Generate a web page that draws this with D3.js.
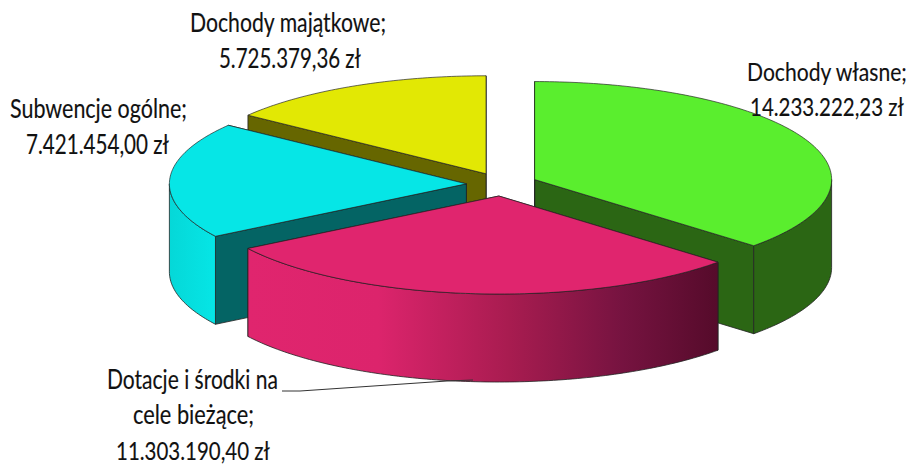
<!DOCTYPE html>
<html><head><meta charset="utf-8">
<script src="https://cdnjs.cloudflare.com/ajax/libs/d3/7.8.5/d3.min.js"></script>
<style>html,body{margin:0;padding:0;background:#fff}svg{display:block}text{font-family:Lato,"Open Sans",sans-serif;font-size:26px;fill:#111;stroke:#111;stroke-width:0.15}</style>
</head><body><div id="c"></div>
<script>
const categories = ["Dochody własne","Dotacje i środki na cele bieżące","Subwencje ogólne","Dochody majątkowe"];
const values = [14233222.23,11303190.40,7421454.00,5725379.36];
const topColors = ["#5aee2e","#e0256e","#06e6e6","#e2e804"];
const faceColors = ["#2b6614","#e0256e","#046464","#666600"];
const sideColors = ["#2b6614","url(#gPink)","url(#gCyan)","#666600"];
const labelLines = [
  ["Dochody własne;","14.233.222,23 zł"],
  ["Dotacje i środki na","cele bieżące;","11.303.190,40 zł"],
  ["Subwencje ogólne;","7.421.454,00 zł"],
  ["Dochody majątkowe;","5.725.379,36 zł"]
];
const W=912,H=466,cx=502,cy=184.3,rx=297,ry=98,depth=88,explode=0.12;
const labelBoxes=[
  [[747,907,81],[750,904,116]],
  [[107,278,389],[133,254,424],[116,270,460]],
  [[10,187,118],[26,169,154]],
  [[190,386,32],[219,361,68]]
];
const x=d3.scaleLinear().domain([-1,1]).range([cx-rx,cx+rx]);
const y=d3.scaleLinear().domain([-1,1]).range([cy-ry,cy+ry]);
const svg=d3.select("#c").append("svg").attr("width",W).attr("height",H);
const defs=svg.append("defs");
function grad(id,x1,x2,stops){
  const g=defs.append("linearGradient").attr("id",id).attr("gradientUnits","userSpaceOnUse")
    .attr("x1",x1).attr("x2",x2).attr("y1",0).attr("y2",0);
  stops.forEach(s=>g.append("stop").attr("offset",s[0]).attr("stop-color",s[1]));
}
grad("gPink",247,716,[[0,"#e0256e"],[0.28,"#dc246c"],[0.56,"#a81c50"],[0.8,"#761340"],[1,"#560b2b"]]);
grad("gCyan",170,217,[[0,"#05d8d8"],[1,"#06e6e6"]]);
const arcs=d3.pie().sort(null).value(d=>d)(values);
const line=d3.line().x(d=>d[0]).y(d=>d[1]);
const stroke="#222";
// painter order: back slices first
[3,2,0,1].forEach(i=>{
  const a=arcs[i],g=svg.append("g");
  const mid=(a.startAngle+a.endAngle)/2;
  const ox=Math.sin(mid)*explode,oy=-Math.cos(mid)*explode;
  const P=(t,r=1,dz=0)=>[x(ox+Math.sin(t)*r),y(oy-Math.cos(t)*r)+dz];
  const sweep=(t0,t1,dz=0)=>{const n=Math.max(2,Math.ceil((t1-t0)*60));return d3.range(n+1).map(k=>P(t0+(t1-t0)*k/n,1,dz));};
  const apex=P(0,0),apexB=P(0,0,depth);
  // radial walls
  [a.endAngle,a.startAngle].forEach(t=>{
    g.append("path").attr("d",line([apex,P(t),P(t,1,depth),apexB])+"Z")
      .attr("fill",faceColors[i]==="#e0256e"?"#8a1644":faceColors[i]).attr("stroke",stroke).attr("stroke-width",0.8);
  });
  // outer curved wall (front half only)
  const t0=Math.max(a.startAngle,Math.PI/2),t1=Math.min(a.endAngle,Math.PI*1.5);
  if(t1>t0){
    g.append("path").attr("d",line(sweep(t0,t1).concat(sweep(t0,t1,depth).reverse()))+"Z")
      .attr("fill",sideColors[i]).attr("stroke",stroke).attr("stroke-width",0.8);
  }
  // top face
  g.append("path").attr("d",line([apex].concat(sweep(a.startAngle,a.endAngle)))+"Z")
    .attr("fill",topColors[i]).attr("stroke",stroke).attr("stroke-width",0.8).attr("stroke-opacity",0.85);
});
// leader line for the pink slice
svg.append("path").attr("d",line([[282,391],[300,391],[447,381],[473,380]]))
  .attr("fill","none").attr("stroke","#333").attr("stroke-width",1);
// labels: horizontally condensed to the reference's label widths
labelLines.forEach((ls,i)=>{
  ls.forEach((t,j)=>{
    const b=labelBoxes[i][j];
    const n=svg.append("text").text(t);
    const s=(b[1]-b[0])/n.node().getComputedTextLength();
    n.attr("transform",`translate(${b[0]},${b[2]}) scale(${s},1)`);
  });
});
</script></body></html>
